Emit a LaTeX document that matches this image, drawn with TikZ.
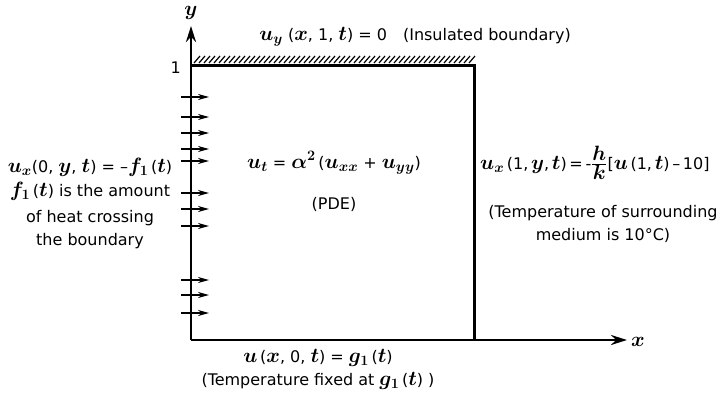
\documentclass[tikz,border=0pt]{standalone}
\usepackage{amsmath}
\usepackage{fontspec}
\setmainfont{DejaVu Sans}
\DeclareMathSizes{16}{20}{15}{12}
\usetikzlibrary{arrows.meta, positioning}
\tikzset{
    heatplate/.style={x=1pt, y=-1pt, font=\fontsize{16}{23}\selectfont\boldmath},
    edge/.style={line width=3pt, line join=miter},
    axis/.style={line width=2.7pt, -{Stealth[length=16pt, width=10pt]}},
    flux/.style={line width=1.5pt, -{Stealth[length=11pt, width=6pt]}},
    hatch/.style={line width=1.2pt},
    note/.style={inner sep=1pt},
}

\begin{document}
\begin{tikzpicture}[heatplate]
    \useasboundingbox (0,0) rectangle (728,396);

    \coordinate (O) at (191,340);
    \coordinate (ytip) at (191,26);
    \coordinate (xtip) at (627,340);
    \coordinate (TL) at (191,66);
    \coordinate (TR) at (474,66);
    \coordinate (BR) at (474,340);

    \draw[axis] (O) -- (ytip);
    \draw[axis] (O) -- (xtip);
    \draw[edge] (TL) -- (TR) -- (BR);

    % insulated top edge
    \foreach \hx in {194,199,...,469}
        \draw[hatch] (\hx,63) -- ++(6,-7);

    % heat flux through the left edge
    \foreach \fy in {97,117,133,149,161,193,209,226,280,295,313}
        \draw[flux] (181,\fy) -- (209,\fy);

    \node[note] (ylab) at (191,13) {$y$};
    \node[note] (xlab) at (638,342) {$x$};
    \node[note, anchor=east] (one) at (182,68) {1};

    \node[note] (insul) at (415,37) {$u_y$ ($x$, 1, $t$) = 0\quad(Insulated boundary)};
    \node[note] (pde) at (334,163) {$u_t$ = $\alpha^2$\,($u_{xx}$ + $u_{yy}$)};
    \node[note] (pdetag) at (334,204) {(PDE)};

    \node[note, align=center] (fluxnote) at (90,203)
        {$u_x$(0, $y$, $t$) = –$f_1$\,($t$)\\[1pt]
         $f_1$\,($t$) is the amount\\[3pt]
         of heat crossing\\
         the boundary};

    \node[note, anchor=west] (robin) at (479,163)
        {$u_x$\,(1,\,$y$,\,$t$)\,=\,-$\frac{\textstyle h}{\textstyle k}$[$u$\,(1,\,$t$)\,–\,10]};
    \node[note, align=center] (medium) at (603,224)
        {(Temperature of surrounding\\medium is 10°C)};

    \node[note, align=center] (fixed) at (318,369)
        {$u$\,($x$, 0, $t$) = $g_1$\,($t$)\\(Temperature fixed at $g_1$\,($t$) )};
\end{tikzpicture}
\end{document}
